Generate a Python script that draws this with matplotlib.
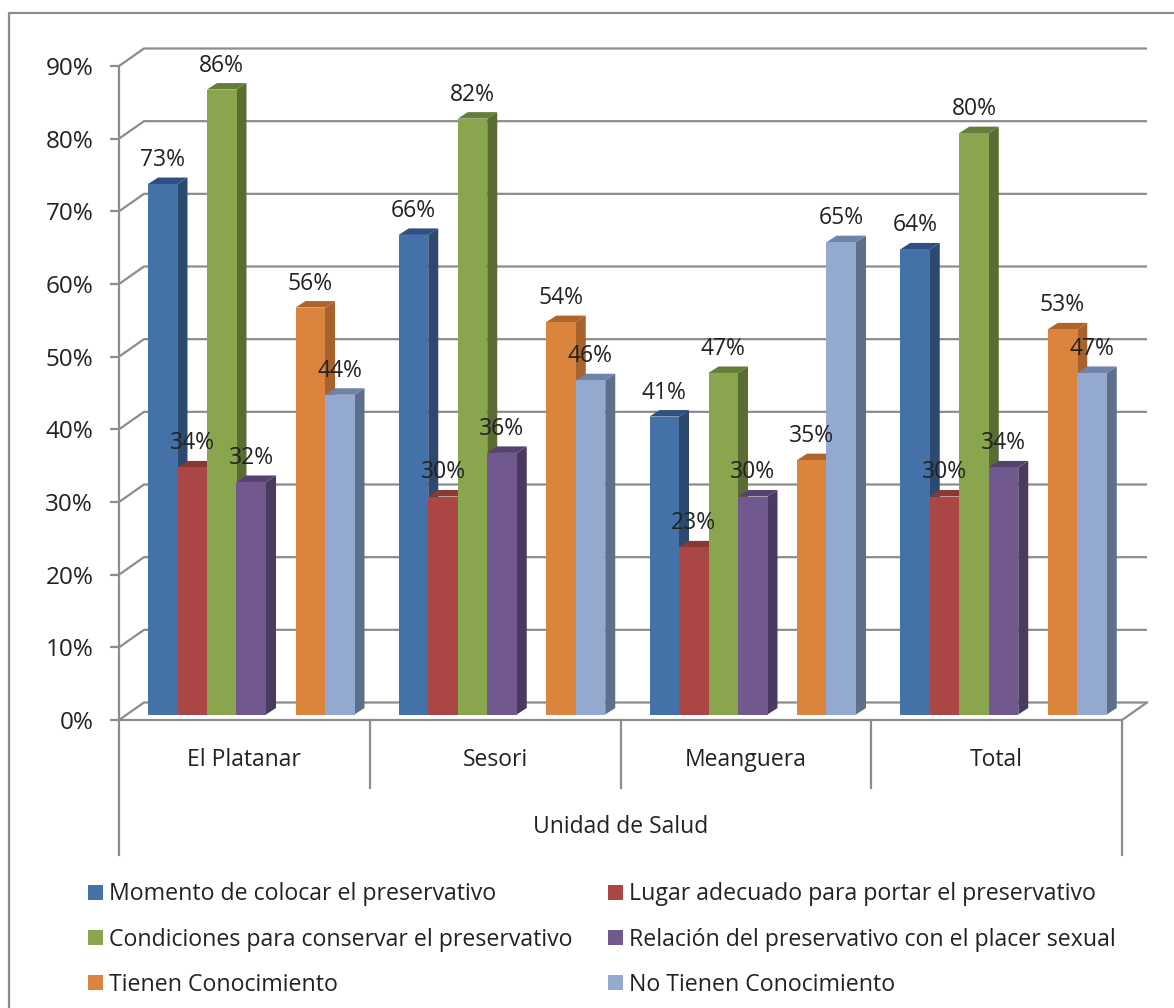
import matplotlib
matplotlib.use('Agg')
import matplotlib.pyplot as plt
from matplotlib.lines import Line2D
from matplotlib.patches import Polygon

plt.rcParams['font.family'] = ['Open Sans', 'DejaVu Sans']

# Chart data
categories = ['El Platanar', 'Sesori', 'Meanguera', 'Total']
momento = [73, 66, 41, 64]
lugar = [34, 30, 23, 30]
condiciones = [86, 82, 47, 80]
relacion = [32, 36, 30, 34]
tienen = [56, 54, 35, 53]
no_tienen = [44, 46, 65, 47]
series_names = [
    'Momento de colocar el preservativo',
    'Lugar adecuado para portar el preservativo',
    'Condiciones para conservar el preservativo',
    'Relación del preservativo con el placer sexual',
    'Tienen Conocimiento',
    'No Tienen Conocimiento',
]
series_values = [momento, lugar, condiciones, relacion, tienen, no_tienen]
y_ticks = [0, 10, 20, 30, 40, 50, 60, 70, 80, 90]

# Front, side and top colours of the 3D bars
front_colors = ['#4471A8', '#AA4643', '#89A54E', '#71588F', '#DB843D', '#93A9CF']
side_colors = ['#2C4A70', '#7A3230', '#5A6B33', '#4A3A60', '#A8622C', '#5E6F8C']
top_colors = ['#2F5080', '#8A3835', '#657D3A', '#55426E', '#AE652B', '#6F83A8']
slots = [0, 1, 2, 3, 5, 6]  # gap between the two bar clusters

W, H = 1174, 1008
LEFT, RIGHT, BOTTOM, TOP = 119, 1122, 720, 66
GRAY = '#8C8C8C'
TEXT = '#222222'

fig = plt.figure(figsize=(W / 100, H / 100), dpi=100, facecolor='white')
ax = fig.add_axes([LEFT / W, 1 - BOTTOM / H, (RIGHT - LEFT) / W, (BOTTOM - TOP) / H])
ax.set_xlim(0, 4)
ax.set_ylim(0, 90)
ax.patch.set_visible(False)

# Pixel sizes turned into data units
px_x = 4 / (RIGHT - LEFT)
px_y = 90 / (BOTTOM - TOP)
wall_dx, wall_dy = 25 * px_x, 17.5 * px_y
bar_w = 29.5 * px_x
bar_start = 29 * px_x
bar_dx, bar_dy = 10 * px_x, 6.5 * px_y
floor = 5.5 * px_y
sep_low = -68 * px_y
axis_low = -135 * px_y

# Back wall gridlines and their diagonals on the side wall
for v in y_ticks:
    ax.plot([0, wall_dx, 4 + wall_dx], [v, v + wall_dy, v + wall_dy],
            color=GRAY, lw=1.6, clip_on=False, zorder=1, solid_capstyle='butt')
ax.plot([4, 4 + wall_dx], [0, wall_dy], color=GRAY, lw=1.6, clip_on=False, zorder=1)

# Axes lines
for side in ['top', 'right']:
    ax.spines[side].set_visible(False)
for side in ['left', 'bottom']:
    ax.spines[side].set_color(GRAY)
    ax.spines[side].set_linewidth(1.6)
ax.set_yticks(y_ticks)
ax.set_yticklabels([f'{v}%' for v in y_ticks], fontsize=17.5, color=TEXT)
ax.tick_params(axis='y', length=6.5, width=1.6, color=GRAY, pad=12)
ax.set_xticks([])

# Multi-level category axis below the floor
for i in range(5):
    low = axis_low if i in (0, 4) else sep_low
    ax.plot([i, i], [0, low], color=GRAY, lw=1.6, clip_on=False, zorder=1)
for i, name in enumerate(categories):
    ax.text(i + 0.5, -40 * px_y, name, ha='center', va='center', fontsize=16.5,
            color=TEXT, clip_on=False)
ax.text(2, -107 * px_y, 'Unidad de Salud', ha='center', va='center', fontsize=16.5,
        color=TEXT, clip_on=False)

# 3D bars, drawn left to right so each one covers its neighbour's side
handles = []
for s, values in enumerate(series_values):
    z = 3 + s
    xs = [i + bar_start + (slots[s] + 0.5) * bar_w for i in range(len(categories))]
    bars = ax.bar(xs, values, width=bar_w, bottom=floor, color=front_colors[s],
                  zorder=z + 0.5, label=series_names[s], clip_on=False)
    handles.append(bars)
    for x, v in zip(xs, values):
        x0, x1 = x - bar_w / 2, x + bar_w / 2
        top = v + floor
        ax.add_patch(Polygon([(x1, floor), (x1 + bar_dx, floor + bar_dy),
                              (x1 + bar_dx, top + bar_dy), (x1, top)],
                             facecolor=side_colors[s], zorder=z, clip_on=False))
        ax.add_patch(Polygon([(x0, top), (x0 + bar_dx, top + bar_dy),
                              (x1 + bar_dx, top + bar_dy), (x1, top)],
                             facecolor=top_colors[s], zorder=z, clip_on=False))
        ax.annotate(f'{v}%', (x, top), xytext=(0, 24), textcoords='offset pixels',
                    ha='center', va='center', fontsize=16.5, color=TEXT,
                    zorder=20, annotation_clip=False)

# Legend filled row by row
order = [0, 2, 4, 1, 3, 5]
fig.legend([handles[i] for i in order], [series_names[i] for i in order], ncol=2,
           loc='lower left', bbox_to_anchor=(88 / W, 1 - 997 / H), frameon=False,
           fontsize=16.7, labelcolor=TEXT, handlelength=0.64, handleheight=0.62,
           handletextpad=0.25, labelspacing=0.92, columnspacing=1.55,
           borderpad=0, borderaxespad=0)

# Outer chart frame, running off the right and bottom edges
fig.add_artist(Line2D([9 / W, 9 / W, 1], [0, 1 - 13 / H, 1 - 13 / H],
                      color='#8C8C8C', lw=1.6))

fig.savefig('out.png', dpi=100)
